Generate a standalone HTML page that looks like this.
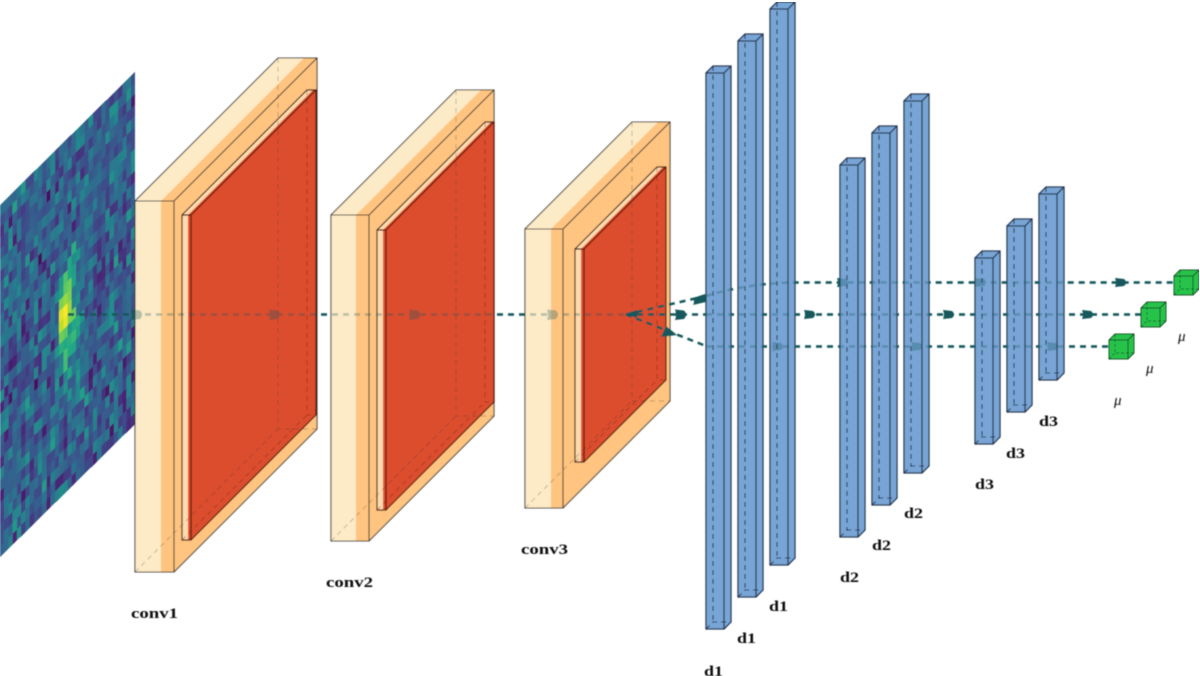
<!DOCTYPE html>
<html><head><meta charset="utf-8"><style>
html,body{margin:0;padding:0;background:#fff}
svg{display:block}
.e{fill:none;stroke:#262626;stroke-width:1.1}
.h{fill:none;stroke:#333;stroke-width:.9;stroke-dasharray:5 4;opacity:.3}
.r{fill:none;stroke:#4a1608;stroke-width:1.2}
.rh{fill:none;stroke:#5b1d0c;stroke-width:.9;stroke-dasharray:5 4;opacity:.4}
.bf{fill:#78a5d6}
.be{fill:none;stroke:#26394f;stroke-width:1.3}
.bh{fill:none;stroke:#22344b;stroke-width:1.1;stroke-dasharray:5 4}
.gf{fill:#28c24a}
.ge{fill:none;stroke:#14502a;stroke-width:1}
.gh{fill:none;stroke:#14502a;stroke-width:.7;stroke-dasharray:3 2}
.ln{fill:none;stroke:#15585c;stroke-width:2.5;stroke-dasharray:6 5}
.ar{fill:#15585c}
text{font-family:"Liberation Serif",serif;fill:#0a0a0a}
.t{font-weight:bold;font-size:15px}
.m{font-style:italic;font-size:15px}
</style></head><body>
<svg xmlns="http://www.w3.org/2000/svg" width="1200" height="676" viewBox="0 0 1200 676">
<defs>
<filter id="b" x="0" y="0" width="100%" height="100%"><feGaussianBlur stdDeviation=".6"/></filter>
<clipPath id="vis">
<rect x="0" y="0" width="135" height="676"/><rect x="317" y="0" width="14" height="676"/><rect x="494" y="0" width="31" height="676"/>
<rect x="670" y="0" width="36" height="676"/><rect x="731" y="0" width="7" height="676"/><rect x="763" y="0" width="7" height="676"/>
<rect x="795" y="0" width="45" height="676"/><rect x="865" y="0" width="7" height="676"/><rect x="897" y="0" width="7" height="676"/>
<rect x="929" y="0" width="46" height="676"/><rect x="1000" y="0" width="7" height="676"/><rect x="1032" y="0" width="7" height="676"/>
<rect x="1064" y="0" width="136" height="676"/>
</clipPath>
<g id="L">
<path class="ln" d="M68 314.500H626"/>
<path class="ln" d="M706 296Q745 284 790 282.500H1174"/>
<path class="ln" d="M706 314.500H1141"/>
<path class="ln" d="M706 346.500H1109"/>
<path class="ar" d="M131 309.500l9 1q4 4 0 8.500l-9 1q2-5 0-10.500zM269 309.500l9 1q4 4 0 8.500l-9 1q2-5 0-10.500zM409 309.500l9 1q4 4 0 8.500l-9 1q2-5 0-10.500zM547 309.500l9 1q4 4 0 8.500l-9 1q2-5 0-10.500z"/>
<path class="ar" d="M804 310l9 1q4 3.500 0 7l-9 1q2-4.500 0-9zM943 310l9 1q4 3.500 0 7l-9 1q2-4.500 0-9zM1082 310l9 1q4 3.500 0 7l-9 1q2-4.500 0-9z"/>
<path class="ar" d="M837 278l9 1q4 3.500 0 7l-9 1q2-4.500 0-9zM975 278l9 1q4 3.500 0 7l-9 1q2-4.500 0-9zM1115 278l9 1q4 3.500 0 7l-9 1q2-4.500 0-9z"/>
<path class="ar" d="M772 342l9 1q4 3.500 0 7l-9 1q2-4.500 0-9zM911 342l9 1q4 3.500 0 7l-9 1q2-4.500 0-9zM1047 342l9 1q4 3.500 0 7l-9 1q2-4.500 0-9z"/>
</g>
</defs>
<g filter="url(#b)">
<g id="heat" transform="matrix(4.22 -4.16 0 11 0 205)" shape-rendering="crispEdges"></g>

<!-- conv1 -->
<path fill="#fdeac6" d="M135 201L278 58H304L161 201Z"/><path fill="#fec480" d="M161 201L304 58H317L174 201Z"/>
<rect x="135" y="201" width="26" height="371" fill="#fdeac6"/><rect x="161" y="201" width="13" height="371" fill="#fec480"/>
<path fill="#fec480" d="M174 201L317 58V429L174 572Z"/>
<path class="e" d="M135 201H174V572H135ZM135 201L278 58H317V429L174 572M174 201L317 58" stroke-opacity=".85"/>
<rect x="182" y="215" width="6" height="325" fill="#fcdcae"/><rect x="188" y="215" width="3.500" height="325" fill="#e2502e"/>
<path fill="#fcdcae" d="M182 215L307 90H313L188 215Z"/><path fill="#e2502e" d="M188 215L313 90H316L191 215Z"/>
<path fill="#dc4d2f" d="M191 215L316 90V415L191 540Z"/>
<path class="r" d="M182 215H191V540H182ZM182 215L307 90H316V415L191 540M191 215L316 90"/>
<path class="rh" d="M307 90V415H316M182 540L307 415"/>
<path class="h" d="M278 58V429H317M135 572L278 429"/>

<!-- conv2 -->
<path fill="#fdeac6" d="M331 215L456 90H481L356 215Z"/><path fill="#fec480" d="M356 215L481 90H494L369 215Z"/>
<rect x="331" y="215" width="25" height="326" fill="#fdeac6"/><rect x="356" y="215" width="13" height="326" fill="#fec480"/>
<path fill="#fec480" d="M369 215L494 90V416L369 541Z"/>
<path class="e" d="M331 215H369V541H331ZM331 215L456 90H494V416L369 541M369 215L494 90" stroke-opacity=".85"/>
<rect x="377" y="230" width="6" height="280" fill="#fcdcae"/><rect x="383" y="230" width="3.500" height="280" fill="#e2502e"/>
<path fill="#fcdcae" d="M377 230L485 122H491L383 230Z"/><path fill="#e2502e" d="M383 230L491 122H494L386 230Z"/>
<path fill="#dc4d2f" d="M386 230L494 122V402L386 510Z"/>
<path class="r" d="M377 230H386V510H377ZM377 230L485 122H494V402L386 510M386 230L494 122"/>
<path class="rh" d="M485 122V402H494M377 510L485 402"/>
<path class="h" d="M456 90V416H494M331 541L456 416"/>

<!-- conv3 -->
<path fill="#fdeac6" d="M525 229L632 122H658L551 229Z"/><path fill="#fec480" d="M551 229L658 122H670L563 229Z"/>
<rect x="525" y="229" width="26" height="279" fill="#fdeac6"/><rect x="551" y="229" width="12" height="279" fill="#fec480"/>
<path fill="#fec480" d="M563 229L670 122V401L563 508Z"/>
<path class="e" d="M525 229H563V508H525ZM525 229L632 122H670V401L563 508M563 229L670 122" stroke-opacity=".85"/>
<rect x="575" y="249" width="6" height="213" fill="#fcdcae"/><rect x="581" y="249" width="3.500" height="213" fill="#e2502e"/>
<path fill="#fcdcae" d="M575 249L657 167H663L581 249Z"/><path fill="#e2502e" d="M581 249L663 167H666L584 249Z"/>
<path fill="#dc4d2f" d="M584 249L666 167V380L584 462Z"/>
<path class="r" d="M575 249H584V462H575ZM575 249L657 167H666V380L584 462M584 249L666 167"/>
<path class="rh" d="M657 167V380H666M575 462L657 380"/>
<path class="h" d="M632 122V401H670M525 508L632 401"/>

<!-- d1 -->
<path class="bf" d="M706 73l7-7h18v556l-7 7h-18z"/><path class="bf" d="M738 41l7-7h18v556l-7 7h-18z"/><path class="bf" d="M770 9l7-7h18v556l-7 7h-18z"/>
<path class="be" d="M706 73h18v556h-18zM706 73l7-7h18v556l-7 7M724 73l7-7"/><path class="be" d="M738 41h18v556h-18zM738 41l7-7h18v556l-7 7M756 41l7-7"/><path class="be" d="M770 9h18v556h-18zM770 9l7-7h18v556l-7 7M788 9l7-7"/>
<path class="bh" d="M713 66v556M706 629l7-7h18M745 34v556M738 597l7-7h18M777 2v556M770 565l7-7h18"/>
<!-- d2 -->
<path class="bf" d="M840 165l7-7h18v372l-7 7h-18z"/><path class="bf" d="M872 133l7-7h18v372l-7 7h-18z"/><path class="bf" d="M904 101l7-7h18v372l-7 7h-18z"/>
<path class="be" d="M840 165h18v372h-18zM840 165l7-7h18v372l-7 7M858 165l7-7"/><path class="be" d="M872 133h18v372h-18zM872 133l7-7h18v372l-7 7M890 133l7-7"/><path class="be" d="M904 101h18v372h-18zM904 101l7-7h18v372l-7 7M922 101l7-7"/>
<path class="bh" d="M847 158v372M840 537l7-7h18M879 126v372M872 505l7-7h18M911 94v372M904 473l7-7h18"/>
<!-- d3 -->
<path class="bf" d="M975 258l7-7h18v186l-7 7h-18z"/><path class="bf" d="M1007 226l7-7h18v186l-7 7h-18z"/><path class="bf" d="M1039 194l7-7h18v186l-7 7h-18z"/>
<path class="be" d="M975 258h18v186h-18zM975 258l7-7h18v186l-7 7M993 258l7-7"/><path class="be" d="M1007 226h18v186h-18zM1007 226l7-7h18v186l-7 7M1025 226l7-7"/><path class="be" d="M1039 194h18v186h-18zM1039 194l7-7h18v186l-7 7M1057 194l7-7"/>
<path class="bh" d="M982 251v186M975 444l7-7h18M1014 219v186M1007 412l7-7h18M1046 187v186M1039 380l7-7h18"/>

<!-- lines -->
<use href="#L" opacity=".3"/>
<use href="#L" clip-path="url(#vis)"/>
<path class="ln" d="M626 314.500H706"/>
<path class="ln" d="M626 314.500L706 296"/>
<path class="ln" d="M626 314.500L706 346"/>
<path class="ar" d="M625 314l12-4v8zM675 309.500l9 1q4 4 0 8.500l-9 1q2-5 0-10.500zM693 298l12-4 1 8-13 3q2-3 0-7zM661 337l5-11 11 9z"/>

<!-- cubes -->
<path class="gf" d="M1174 276l6-6h19v19l-6 6h-19z"/><path class="gf" d="M1141 308l6-6h19v19l-6 6h-19z"/><path class="gf" d="M1109 340l6-6h19v19l-6 6h-19z"/>
<path class="ge" d="M1174 276h19v19h-19zM1174 276l6-6h19v19l-6 6M1193 276l6-6"/><path class="ge" d="M1141 308h19v19h-19zM1141 308l6-6h19v19l-6 6M1160 308l6-6"/><path class="ge" d="M1109 340h19v19h-19zM1109 340l6-6h19v19l-6 6M1128 340l6-6"/>
<path class="gh" d="M1180 270v19h19M1174 295l6-6M1147 302v19h19M1141 327l6-6M1115 334v19h19M1109 359l6-6"/>

<!-- labels -->
<text class="t" x="131" y="618" textLength="47" lengthAdjust="spacingAndGlyphs">conv1</text>
<text class="t" x="326" y="587" textLength="47" lengthAdjust="spacingAndGlyphs">conv2</text>
<text class="t" x="521" y="554" textLength="47" lengthAdjust="spacingAndGlyphs">conv3</text>
<text class="t" x="704" y="676" textLength="19" lengthAdjust="spacingAndGlyphs">d1</text>
<text class="t" x="737" y="643" textLength="19" lengthAdjust="spacingAndGlyphs">d1</text>
<text class="t" x="769" y="611" textLength="19" lengthAdjust="spacingAndGlyphs">d1</text>
<text class="t" x="840" y="582" textLength="19" lengthAdjust="spacingAndGlyphs">d2</text>
<text class="t" x="872" y="550" textLength="19" lengthAdjust="spacingAndGlyphs">d2</text>
<text class="t" x="904" y="518" textLength="19" lengthAdjust="spacingAndGlyphs">d2</text>
<text class="t" x="975" y="489" textLength="19" lengthAdjust="spacingAndGlyphs">d3</text>
<text class="t" x="1006" y="458" textLength="19" lengthAdjust="spacingAndGlyphs">d3</text>
<text class="t" x="1039" y="426" textLength="19" lengthAdjust="spacingAndGlyphs">d3</text>
<text class="m" x="1114" y="405">μ</text>
<text class="m" x="1146" y="373">μ</text>
<text class="m" x="1178" y="341">μ</text>
</g>
</svg>
<script>
(function(){
var s=[[68,1,84],[72,36,117],[65,68,135],[53,95,141],[42,120,142],[33,145,140],[34,168,132],[68,191,112],[122,209,81],[189,223,38],[253,231,37]];
function col(v){v=Math.max(0,Math.min(.999,v))*10;var i=Math.floor(v),f=v-i,a=s[i],b=s[i+1];
return 'rgb('+[0,1,2].map(function(k){return Math.round(a[k]+(b[k]-a[k])*f)}).join(',')+')';}
var x=12345;function r(){x=(x*1103515245+12345)&2147483647;return x/2147483648;}
for(var q=0;q<50;q++)r();
var o={'15,15':1,'15,16':.97,'14,15':.95,'14,16':.9,'16,15':.85,'16,16':.8,'15,14':.85,'14,14':.8,'16,14':.8,'14,17':.78,'15,17':.75,'16,13':.78,'15,13':.75,'15,12':.72,'14,18':.62,'16,12':.6,'15,18':.6,'17,10':.62,'16,11':.6};
var h='';
for(var c=0;c<32;c++)for(var j=0;j<32;j++){
 var n=(r()+r()+r()-1.5)*.2;
 var dc=(c-15.5),dj=(j-15.5);
 var g=.42*Math.exp(-(dc*dc)/(2*1.7*1.7)-(dj*dj)/(2*3.6*3.6));
 var v=.3+n+g;
 if(r()<.02)v=.1;
 var k=c+','+j;if(o[k]!==undefined)v=o[k];
 h+='<rect x="'+c+'" y="'+j+'" width="1.02" height="1.02" fill="'+col(v)+'"/>';
}
document.getElementById('heat').innerHTML=h;
})();
</script>
</body></html>
